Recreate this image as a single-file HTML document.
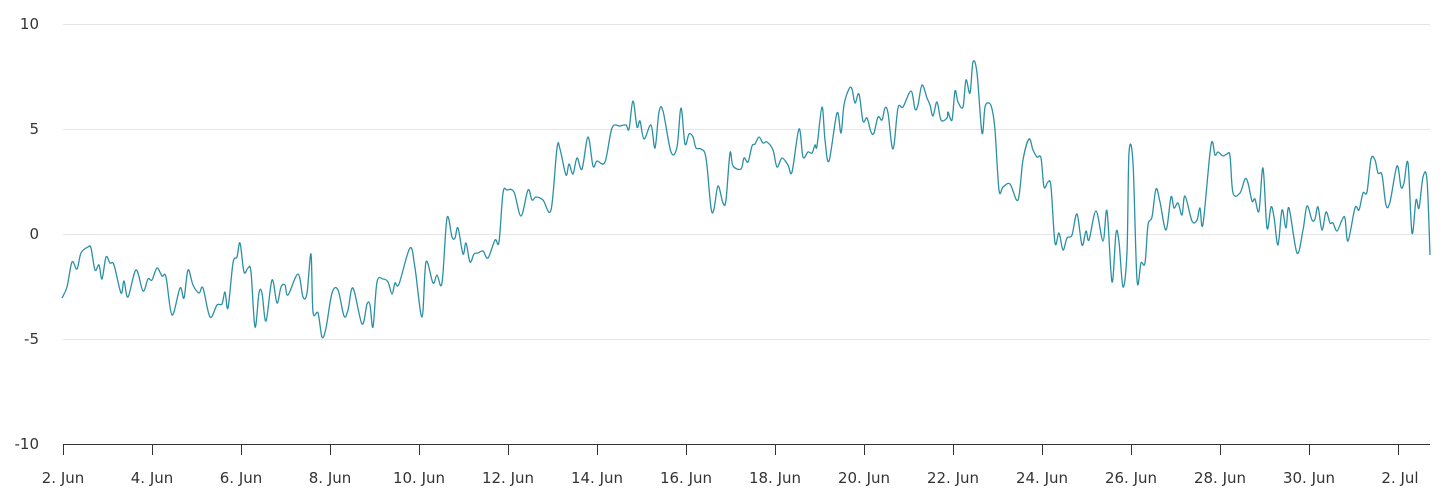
<!DOCTYPE html>
<html><head><meta charset="utf-8"><style>
html,body{margin:0;padding:0;background:#fff;}
svg{display:block;font-family:"DejaVu Sans","Liberation Sans",sans-serif;}
</style></head><body>
<svg width="1445" height="499" viewBox="0 0 1445 499" xmlns="http://www.w3.org/2000/svg">
<g stroke="#e6e6e6" stroke-width="1">
<line x1="63" y1="24.5" x2="1430" y2="24.5"/>
<line x1="63" y1="129.5" x2="1430" y2="129.5"/>
<line x1="63" y1="234.5" x2="1430" y2="234.5"/>
<line x1="63" y1="339.5" x2="1430" y2="339.5"/>
</g>
<line x1="63" y1="444.5" x2="1430" y2="444.5" stroke="#333" stroke-width="1"/>
<g stroke="#333" stroke-width="1">
<line x1="63.5" y1="444" x2="63.5" y2="455"/><line x1="152.5" y1="444" x2="152.5" y2="455"/>
<line x1="241.5" y1="444" x2="241.5" y2="455"/><line x1="330.5" y1="444" x2="330.5" y2="455"/>
<line x1="419.5" y1="444" x2="419.5" y2="455"/><line x1="508.5" y1="444" x2="508.5" y2="455"/>
<line x1="597.5" y1="444" x2="597.5" y2="455"/><line x1="686.5" y1="444" x2="686.5" y2="455"/>
<line x1="775.5" y1="444" x2="775.5" y2="455"/><line x1="864.5" y1="444" x2="864.5" y2="455"/>
<line x1="953.5" y1="444" x2="953.5" y2="455"/><line x1="1042.5" y1="444" x2="1042.5" y2="455"/>
<line x1="1131.5" y1="444" x2="1131.5" y2="455"/><line x1="1220.5" y1="444" x2="1220.5" y2="455"/>
<line x1="1309.5" y1="444" x2="1309.5" y2="455"/><line x1="1398.5" y1="444" x2="1398.5" y2="455"/>
</g>
<g font-size="15" fill="#333" text-anchor="end">
<text x="39" y="29">10</text><text x="39" y="134">5</text><text x="39" y="239">0</text>
<text x="39" y="344">-5</text><text x="39" y="449">-10</text>
</g>
<g font-size="15" fill="#333" text-anchor="middle">
<text x="63" y="483">2. Jun</text><text x="152" y="483">4. Jun</text><text x="241" y="483">6. Jun</text>
<text x="330" y="483">8. Jun</text><text x="419" y="483">10. Jun</text><text x="508" y="483">12. Jun</text>
<text x="597" y="483">14. Jun</text><text x="686" y="483">16. Jun</text><text x="775" y="483">18. Jun</text>
<text x="864" y="483">20. Jun</text><text x="953" y="483">22. Jun</text><text x="1042" y="483">24. Jun</text>
<text x="1131" y="483">26. Jun</text><text x="1220" y="483">28. Jun</text><text x="1309" y="483">30. Jun</text>
<text x="1400" y="483">2. Jul</text>
</g>
<polyline id="pl" fill="none" stroke="#2b90a4" stroke-width="1.3" stroke-linejoin="round" points="
62,298 67,287 72,262 77,269 81,253 88,247 91,248 95,270 99,265 102,279 106,257 110,263 114,265 121,293 124,281 128,297 136,270 143,291 148,279 152,280 157,268 162,276 166,277 172,315 180,288 184,298 188,270 193,285 199,293 203,288 210,317 217,305 222,304 225,292 228,308 233,263 237,257 240,243 244,272 248,268 251,272 255,327 259,293 262,293 266,321 272,280 277,303 281,287 285,285 288,295 298,274 303,297 307,293 311,254 313,312 318,313 322,337 326,328 332,293 338,290 344,316 348,310 353,288 362,324 367,304 370,305 373,327 377,282 383,279 388,282 392,294 395,283 399,284 410,248 415,268 422,317 426,262 433,283 437,275 442,283 447,218 452,237 455,238 458,228 463,254 466,243 470,262 474,254 478,253 483,251 488,258 495,240 499,242 503,193 507,190 514,192 521,216 528,190 532,200 536,197 543,200 551,210 557,148 560,149 566,175 569,164 573,174 577,158 582,169 588,137 593,166 597,161 605,162 612,128 620,126 626,125 629,129 633,101 637,127 640,121 644,139 651,125 655,148 659,112 663,111 671,152 677,147 681,108 685,144 689,134 693,137 696,148 701,149 706,158 711,208 714,209 718,186 723,203 726,200 730,153 733,166 741,169 744,158 748,162 752,146 755,144 759,137 763,143 767,142 773,150 777,167 782,158 788,165 792,172 799,129 803,157 808,152 812,153 815,145 817,146 822,107 825,140 829,161 837,113 841,133 844,105 849,89 852,89 855,103 859,94 863,121 867,118 871,132 874,133 878,117 882,120 885,108 888,113 893,149 898,108 903,107 911,91 915,109 918,105 922,85 927,98 930,105 933,116 937,102 941,120 947,118 948,112 952,120 955,91 958,102 963,107 966,80 970,93 973,62 977,73 982,133 985,107 989,103 992,109 995,130 999,190 1003,187 1010,184 1018,200 1023,160 1029,139 1033,150 1037,157 1041,158 1044,187 1048,182 1051,187 1055,243 1059,233 1063,250 1067,238 1072,235 1077,214 1082,245 1086,231 1089,240 1096,211 1103,241 1107,211 1112,282 1116,233 1119,242 1123,287 1127,252 1129,153 1133,163 1137,280 1141,263 1145,263 1148,225 1152,217 1156,189 1160,202 1166,230 1171,197 1174,208 1178,203 1182,215 1185,196 1192,221 1197,220 1200,208 1203,224 1211,145 1215,155 1218,152 1223,156 1227,154 1230,156 1233,193 1240,193 1245,179 1248,183 1252,201 1255,199 1259,211 1263,168 1267,228 1271,207 1274,217 1278,245 1282,210 1286,228 1289,208 1297,253 1303,230 1307,206 1312,220 1315,219 1318,207 1322,230 1326,212 1330,223 1333,223 1337,231 1342,220 1345,218 1348,241 1355,208 1359,210 1363,193 1367,192 1371,159 1375,160 1378,173 1382,175 1386,205 1390,202 1397,166 1401,187 1404,183 1408,163 1412,233 1416,200 1419,208 1423,177 1427,180 1430,255"/>
</svg>
<script>
(function(){
var pl=document.getElementById('pl');
var nums=pl.getAttribute('points').trim().split(/[\s,]+/).map(Number);
var p=[];for(var i=0;i<nums.length;i+=2)p.push([nums[i],nums[i+1]]);
var d='M'+p[0][0]+','+p[0][1];
for(var i=0;i<p.length-1;i++){
var p0=p[i-1]||p[i],p1=p[i],p2=p[i+1],p3=p[i+2]||p2;
var c1x=p1[0]+(p2[0]-p0[0])/6,c1y=p1[1]+(p2[1]-p0[1])/6;
var c2x=p2[0]-(p3[0]-p1[0])/6,c2y=p2[1]-(p3[1]-p1[1])/6;
d+=' C'+c1x.toFixed(2)+','+c1y.toFixed(2)+' '+c2x.toFixed(2)+','+c2y.toFixed(2)+' '+p2[0]+','+p2[1];
}
var path=document.createElementNS('http://www.w3.org/2000/svg','path');
path.setAttribute('d',d);path.setAttribute('fill','none');path.setAttribute('stroke','#2b90a4');
path.setAttribute('stroke-width','1.3');path.setAttribute('stroke-linejoin','round');
pl.parentNode.replaceChild(path,pl);
})();
</script>
</body></html>
